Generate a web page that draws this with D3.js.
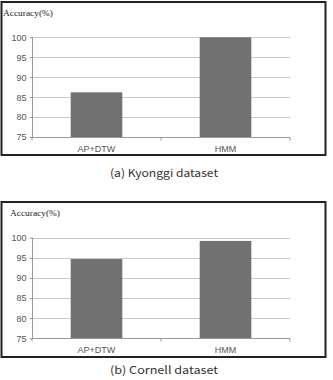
<!DOCTYPE html>
<meta charset="utf-8">
<style>
body { margin: 0; background: #fff; }
.grid line { stroke: #c8c8c8; stroke-width: 1px; }
.axis path, .axis line { stroke: #999; }
.axis text { fill: #555; font-family: "Liberation Sans", Arial, sans-serif; font-size: 9px; }
.ylabel { font-family: "Liberation Serif", serif; font-size: 8px; fill: #222; }
.caption { font-family: "Noto Sans CJK KR", sans-serif; font-size: 11px; fill: #333; }
</style>
<svg width="333" height="380"></svg>
<script src="https://cdn.jsdelivr.net/npm/d3@7"></script>
<script>

var categories = ["AP+DTW", "HMM"];
var kyonggi = [86.2, 100];
var cornell = [94.7, 99.2];
var yTicks = [75, 80, 85, 90, 95, 100];
var captions = ["(a) Kyonggi dataset", "(b) Cornell dataset"];

var svg = d3.select("svg");

var panels = [
  {values: kyonggi, caption: captions[0], top: 2, bottom: 155, y0: 37.3, y1: 137, capY: 177, labX: 3},
  {values: cornell, caption: captions[1], top: 202, bottom: 357, y0: 237.7, y1: 338.3, capY: 374, labX: 10}
];

panels.forEach(function(p) {
  var g = svg.append("g");

  g.append("rect")
      .attr("x", 1.5).attr("y", p.top)
      .attr("width", 324).attr("height", p.bottom - p.top)
      .attr("fill", "#fff")
      .attr("stroke", "#222")
      .attr("stroke-width", 2);

  var x = d3.scaleBand()
      .domain(categories)
      .range([32, 290])
      .paddingInner(0.6)
      .paddingOuter(0.3);

  var xb = d3.scaleBand().domain(categories).range([32, 290]);

  var y = d3.scaleLinear()
      .domain([75, 100])
      .range([p.y1, p.y0]);

  g.append("g")
      .attr("class", "grid")
    .selectAll("line")
    .data(yTicks.slice(1))
    .enter().append("line")
      .attr("x1", 32).attr("x2", 290)
      .attr("y1", function(d) { return Math.round(y(d)) + 0.5; })
      .attr("y2", function(d) { return Math.round(y(d)) + 0.5; });

  g.selectAll(".bar")
    .data(p.values)
    .enter().append("rect")
      .attr("class", "bar")
      .attr("x", function(d, i) { return x(categories[i]); })
      .attr("width", x.bandwidth())
      .attr("y", function(d) { return y(d); })
      .attr("height", function(d) { return y(75) - y(d); })
      .attr("fill", "#717171");

  var yAxis = g.append("g")
      .attr("class", "axis")
      .attr("transform", "translate(32.5,0)")
      .call(d3.axisLeft(y).tickValues(yTicks).tickSize(3).tickPadding(3));
  yAxis.select(".domain").attr("d", "M0," + y(100) + "V" + y(75));

  var xAxis = g.append("g")
      .attr("class", "axis")
      .attr("transform", "translate(0," + (Math.round(y(75)) + 0.5) + ")");
  xAxis.append("line").attr("x1", 32).attr("x2", 290);
  xAxis.selectAll(".tk")
    .data([32, 161, 290])
    .enter().append("line")
      .attr("x1", function(d) { return d; })
      .attr("x2", function(d) { return d; })
      .attr("y1", 0).attr("y2", 3);
  xAxis.selectAll("text")
    .data(categories)
    .enter().append("text")
      .attr("x", function(d) { return xb(d) + xb.bandwidth() / 2; })
      .attr("y", 14)
      .attr("text-anchor", "middle")
      .text(function(d) { return d; });

  g.append("text")
      .attr("class", "ylabel")
      .attr("x", p.labX)
      .attr("y", p.top + 14)
      .attr("textLength", 50)
      .attr("lengthAdjust", "spacingAndGlyphs")
      .text("Accuracy(%)");

  g.append("text")
      .attr("class", "caption")
      .attr("x", 164)
      .attr("y", p.capY)
      .attr("text-anchor", "middle")
      .attr("textLength", 108)
      .attr("lengthAdjust", "spacingAndGlyphs")
      .text(p.caption);
});

</script>
